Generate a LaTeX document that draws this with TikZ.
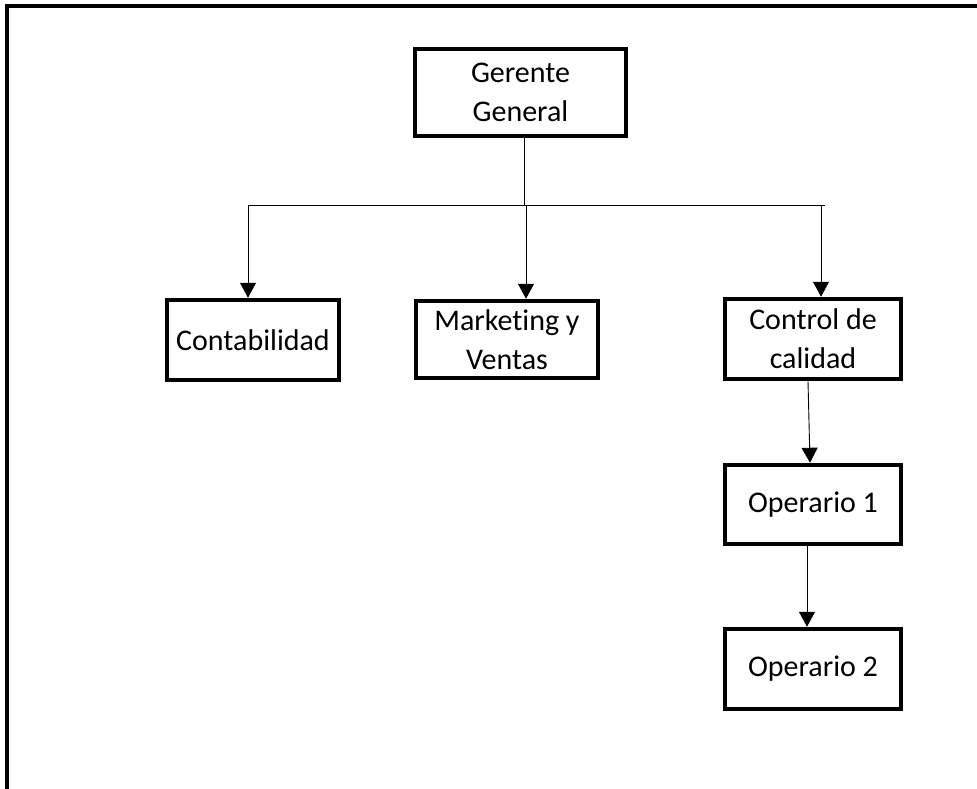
\documentclass[tikz,border=0pt]{standalone}
\usepackage{fontspec}
\setmainfont{Carlito}[Ligatures=NoCommon]
\usetikzlibrary{arrows.meta,calc}
\begin{document}
\begin{tikzpicture}[x=1pt,y=-1pt,
  box/.style={draw,line width=4.5pt,align=center,inner sep=0pt,
    font=\fontsize{30}{39}\selectfont},
  conn/.style={line width=0.9pt},
  arr/.style={conn,-{Triangle[length=15pt,width=16pt]}}]
\useasboundingbox (0,0) rectangle (977,789);
% frame
\draw[line width=3.5pt] (7,789) -- (7,6) -- (977,6);
% nodes
\node[box,minimum width=211pt,minimum height=87pt] (g) at (520.5,92.5) {Gerente\\General};
\node[box,minimum width=172pt,minimum height=80pt] (c) at (253,340) {Contabilidad};
\node[box,minimum width=182pt,minimum height=77pt] (m) at (507,339.5) {Marketing y\\Ventas};
\node[box,minimum width=176pt,minimum height=80pt] (q) at (813,339) {Control de\\calidad};
\node[box,minimum width=176pt,minimum height=79pt] (o1) at (813,504.5) {Operario 1};
\node[box,minimum width=176pt,minimum height=80pt] (o2) at (813,669) {Operario 2};
% branch coordinates
\coordinate (hc) at (524,205);
\coordinate (hl) at (248,205);
\coordinate (hr) at (825,205);
\coordinate (hq) at (821,205);
\coordinate (hm) at (526,205);
% connectors
\draw[conn] (g.south -| hc) -- (hc);
\draw[conn] (hl) -- (hr);
\draw[arr] (hl) -- (c.north -| hl);
\draw[arr] (hm) -- (m.north -| hm);
\draw[arr] (hq) -- (q.north -| hq);
\draw[arr] ($(q.south)+(-5,0)$) -- ($(o1.north)+(-3,0)$);
\draw[arr] ($(o1.south)+(-6,0)$) -- ($(o2.north)+(-6,0)$);
\end{tikzpicture}
\end{document}
